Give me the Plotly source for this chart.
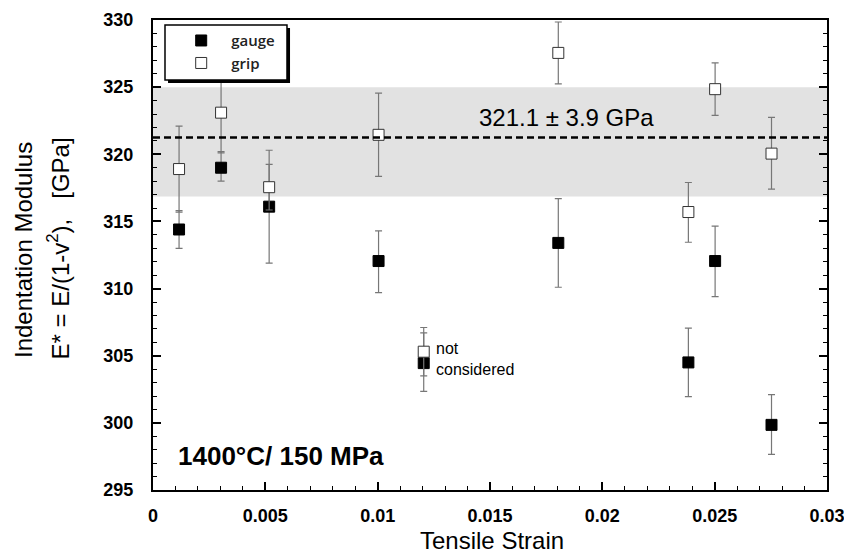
import plotly.graph_objects as go

# ---- data ----
strain = [0.00116, 0.00303, 0.00517, 0.01004, 0.01205, 0.01804, 0.02383, 0.02502, 0.02753]

gauge = [314.4, 319.0, 316.1, 312.05, 304.45, 313.4, 304.5, 312.05, 299.85]
gauge_err_plus = [1.4, 1.2, 4.2, 2.25, 2.25, 3.3, 2.55, 2.6, 2.25]
gauge_err_minus = [1.4, 1.0, 4.2, 2.35, 2.1, 3.3, 2.55, 2.65, 2.2]

grip = [318.9, 323.1, 317.55, 321.45, 305.3, 327.55, 315.7, 324.85, 320.05]
grip_err_plus = [3.2, 3.0, 1.7, 3.1, 1.8, 2.3, 2.2, 1.95, 2.7]
grip_err_minus = [3.2, 3.0, 1.7, 3.1, 1.8, 2.3, 2.25, 1.95, 2.65]

band_low, band_high = 316.85, 325.0
mean_line = 321.25

x_range = [0, 0.0300001]
y_range = [295, 330.0001]
x_tickvals = [0, 0.005, 0.01, 0.015, 0.02, 0.025, 0.03]
x_ticktext = ["0", "0.005", "0.01", "0.015", "0.02", "0.025", "0.03"]
y_tickvals = [295, 300, 305, 310, 315, 320, 325, 330]

FONT = "Liberation Sans, Arial, Helvetica, sans-serif"

fig = go.Figure()

err_style = dict(color="#777777", thickness=1.2, width=3.5)

fig.add_trace(go.Scatter(
    x=strain, y=gauge, mode="markers", name="gauge",
    marker=dict(symbol="square", size=11, color="black", line=dict(color="black", width=1)),
    error_y=dict(type="data", symmetric=False, array=gauge_err_plus,
                 arrayminus=gauge_err_minus, **err_style),
))
fig.add_trace(go.Scatter(
    x=strain, y=grip, mode="markers", name="grip",
    marker=dict(symbol="square", size=11, color="white", line=dict(color="#333333", width=1)),
    error_y=dict(type="data", symmetric=False, array=grip_err_plus,
                 arrayminus=grip_err_minus, **err_style),
))

# grey band and mean line
fig.add_shape(type="rect", xref="x", yref="y", x0=x_range[0], x1=x_range[1],
              y0=band_low, y1=band_high, fillcolor="#e2e2e2", line_width=0, layer="below")
fig.add_shape(type="line", xref="x", yref="y", x0=x_range[0], x1=x_range[1],
              y0=mean_line, y1=mean_line, line=dict(color="black", width=2.6, dash="7px,4px"),
              layer="above")

# legend box with shadow
lx0, lx1, ly0, ly1 = 0.0178, 0.1988, 0.8723, 0.9894
fig.add_shape(type="rect", xref="paper", yref="paper",
              x0=lx0 + 0.0045, x1=lx1 + 0.0045, y0=ly0 - 0.0064, y1=ly1 - 0.0064,
              fillcolor="black", line_width=0, layer="above")
fig.add_shape(type="rect", xref="paper", yref="paper",
              x0=lx0, x1=lx1, y0=ly0, y1=ly1,
              fillcolor="white", line=dict(color="black", width=1.5), layer="above")

fig.update_layout(
    width=844, height=555,
    margin=dict(l=153, r=17, t=20, b=65),
    paper_bgcolor="white", plot_bgcolor="white",
    showlegend=True,
    legend=dict(x=0.027, y=0.991, xanchor="left", yanchor="top",
                bgcolor="rgba(0,0,0,0)", borderwidth=0, itemwidth=50,
                font=dict(family="Open Sans, sans-serif", size=15, color="#222222", weight=600),
                tracegroupgap=0),
    font=dict(family=FONT, color="black"),
)

axis_common = dict(showgrid=False, zeroline=False, showline=True, linecolor="black", linewidth=2,
                   ticks="inside", ticklen=8, tickwidth=1.5, tickcolor="black", automargin=False,
                   ticklabeloverflow="allow",
                   tickfont=dict(family=FONT, size=18, color="black", weight="bold"))

fig.update_xaxes(range=x_range, tickvals=x_tickvals, ticktext=x_ticktext, mirror=True,
                 ticklabelstandoff=8,
                 minor=dict(dtick=0.001, ticklen=4, tickwidth=1.2, tickcolor="black", ticks="inside"),
                 **axis_common)
fig.update_yaxes(range=y_range, tickvals=y_tickvals, mirror="ticks",
                 ticklabelstandoff=14,
                 minor=dict(dtick=1, ticklen=4, tickwidth=1.2, tickcolor="black", ticks="inside"),
                 **axis_common)

ann = []
ann.append(dict(text="321.1 \u00b1 3.9 GPa", xref="paper", yref="paper", x=0.6128, y=0.7936,
                xanchor="center", yanchor="middle", showarrow=False,
                font=dict(family=FONT, size=24, color="black")))
ann.append(dict(text="<b>1400\u00b0C/ 150 MPa</b>", xref="paper", yref="paper", x=0.034, y=0.0723,
                xanchor="left", yanchor="middle", showarrow=False,
                font=dict(family=FONT, size=26, color="black")))
ann.append(dict(text="not<br>considered", xref="paper", yref="paper", x=0.4169, y=0.2787,
                xanchor="left", yanchor="middle", align="left", showarrow=False,
                font=dict(family=FONT, size=16, color="black")))
ann.append(dict(text="Indentation Modulus", xref="paper", yref="paper", x=-0.1929, y=0.5106,
                xanchor="center", yanchor="middle", textangle=-90, showarrow=False,
                font=dict(family=FONT, size=24, color="black")))
ann.append(dict(text="E* = E/(1-v<sup>2</sup>),\u00a0\u00a0\u00a0[GPa]", xref="paper", yref="paper",
                x=-0.141, y=0.5138, xanchor="center", yanchor="middle", textangle=-90,
                showarrow=False, font=dict(family=FONT, size=24, color="black")))
ann.append(dict(text="Tensile Strain", xref="paper", yref="paper", x=0.503, y=-0.108,
                xanchor="center", yanchor="middle", showarrow=False,
                font=dict(family=FONT, size=24, color="black")))
fig.update_layout(annotations=ann)

# remove the default 8px page margin so the figure sits at the window's top-left corner
fig.write_html("out.html", config={"displayModeBar": False},
               post_script="document.body.style.margin='0';")
